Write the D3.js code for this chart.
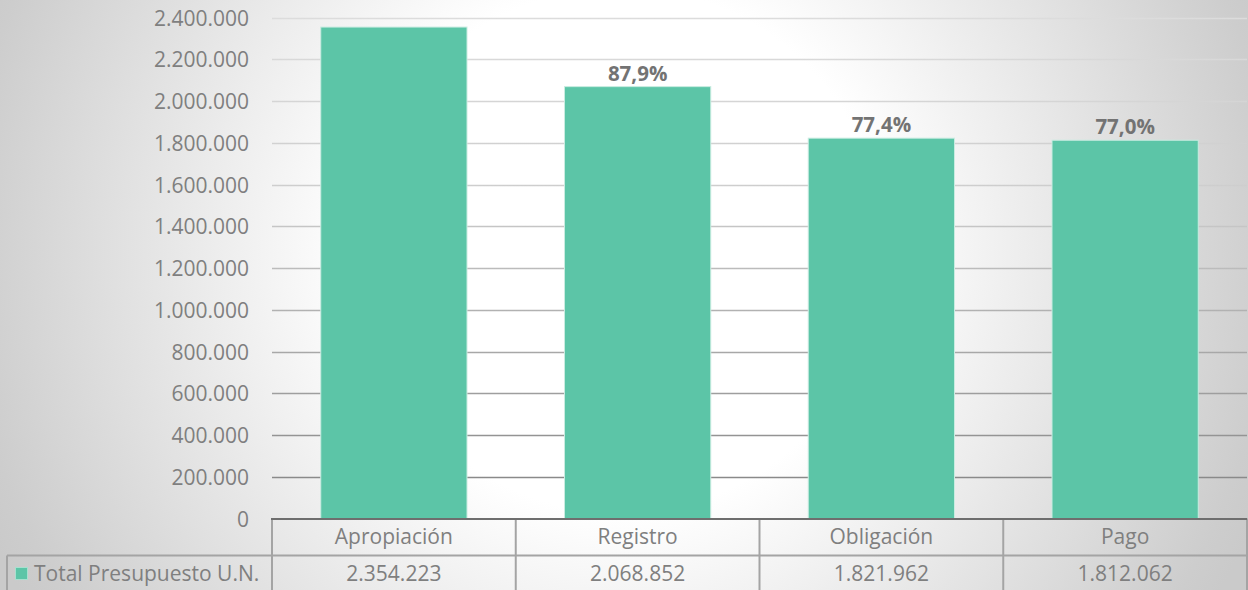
<!DOCTYPE html>
<html>
<head>
<meta charset="utf-8">
<script src="https://cdn.jsdelivr.net/npm/d3@7"></script>
<style>
  html, body { margin: 0; padding: 0; background: #fff; }
  svg { display: block; font-family: "Open Sans", "DejaVu Sans", sans-serif; }
</style>
</head>
<body>
<svg id="chart" width="1248" height="590"></svg>
<script>
  // data
  const categories = ["Apropiación", "Registro", "Obligación", "Pago"];
  const values = [2354223, 2068852, 1821962, 1812062];
  const pctLabels = ["", "87,9%", "77,4%", "77,0%"];
  const seriesName = "Total Presupuesto U.N.";
  const yTicks = [0, 200000, 400000, 600000, 800000, 1000000, 1200000,
                  1400000, 1600000, 1800000, 2000000, 2200000, 2400000];

  const W = 1248, H = 590;
  const plot = { left: 272, right: 1247, top: 17.5, bottom: 518.5 };
  const rowH = 37;
  const barColor = "#5cc5a7";
  const textColor = "#7f7f7f";

  const fmt = d3.formatLocale({ decimal: ",", thousands: ".", grouping: [3], currency: ["", ""] });
  const num = fmt.format(",d");

  const svg = d3.select("#chart");
  const defs = svg.append("defs");

  const bg = defs.append("radialGradient")
    .attr("id", "bg").attr("gradientUnits", "userSpaceOnUse")
    .attr("cx", 620).attr("cy", 250).attr("r", 690);
  bg.append("stop").attr("offset", 0).attr("stop-color", "#ffffff");
  bg.append("stop").attr("offset", 0.38).attr("stop-color", "#ffffff");
  bg.append("stop").attr("offset", 0.95).attr("stop-color", "#cdcdcd");
  bg.append("stop").attr("offset", 1).attr("stop-color", "#cacaca");

  const gl = defs.append("linearGradient")
    .attr("id", "grid").attr("gradientUnits", "userSpaceOnUse")
    .attr("x1", 0).attr("y1", plot.top).attr("x2", 0).attr("y2", plot.bottom);
  gl.append("stop").attr("offset", 0).attr("stop-color", "#dcdcdc");
  gl.append("stop").attr("offset", 0.35).attr("stop-color", "#cdcdcd");
  gl.append("stop").attr("offset", 0.92).attr("stop-color", "#8a8a8a");
  gl.append("stop").attr("offset", 1).attr("stop-color", "#858585");

  svg.append("rect").attr("width", W).attr("height", H).attr("fill", "url(#bg)");

  const x = d3.scaleBand()
    .domain(categories)
    .range([plot.left, plot.right])
    .paddingInner(0.4)
    .paddingOuter(0.2);

  const y = d3.scaleLinear()
    .domain([0, 2400000])
    .range([plot.bottom, plot.top]);

  // gridlines
  svg.append("g")
    .selectAll("line")
    .data(yTicks.filter((d) => d > 0))
    .join("line")
    .attr("x1", plot.left).attr("x2", plot.right)
    .attr("y1", (d) => Math.round(y(d)) + 0.5)
    .attr("y2", (d) => Math.round(y(d)) + 0.5)
    .attr("stroke", "url(#grid)")
    .attr("stroke-width", 1.5);

  // y axis labels
  const yAxis = d3.axisLeft(y).tickValues(yTicks).tickSize(0).tickPadding(0)
    .tickFormat((d) => num(d));
  const ya = svg.append("g").attr("transform", `translate(${plot.left - 23},0)`).call(yAxis);
  ya.select(".domain").remove();
  ya.selectAll("text")
    .attr("fill", textColor)
    .style("font-size", "21px")
    .style("font-family", "'Open Sans', sans-serif")
    .attr("dy", "0.36em");

  // bars
  svg.append("g")
    .selectAll("rect")
    .data(values)
    .join("rect")
    .attr("x", (d, i) => x(categories[i]))
    .attr("y", (d) => y(d))
    .attr("width", x.bandwidth())
    .attr("height", (d) => plot.bottom - y(d))
    .attr("fill", barColor)
    .attr("stroke", "#c9ece1")
    .attr("stroke-width", 1);

  // percentage labels
  svg.append("g")
    .selectAll("text")
    .data(pctLabels)
    .join("text")
    .attr("x", (d, i) => x(categories[i]) + x.bandwidth() / 2)
    .attr("y", (d, i) => y(values[i]) - 6)
    .attr("text-anchor", "middle")
    .attr("fill", "#737373")
    .style("font-size", "20.5px")
    .style("font-weight", "bold")
    .text((d) => d);

  // data table
  const table = svg.append("g");
  const lineCol = "#a4a4a4";
  const r1 = plot.bottom, r2 = plot.bottom + rowH, r3 = H + 2;

  table.append("line")
    .attr("x1", plot.left).attr("x2", plot.right)
    .attr("y1", r2).attr("y2", r2)
    .attr("stroke", lineCol).attr("stroke-width", 2);
  table.append("line")
    .attr("x1", 7).attr("x2", plot.left)
    .attr("y1", r2).attr("y2", r2)
    .attr("stroke", lineCol).attr("stroke-width", 2);
  table.append("line")
    .attr("x1", 7).attr("x2", 7)
    .attr("y1", r2).attr("y2", r3)
    .attr("stroke", lineCol).attr("stroke-width", 2);

  const edges = categories.map((c) => x(c) - x.step() * x.paddingInner() / 2);
  edges.push(plot.right);
  table.selectAll(".vline")
    .data(edges)
    .join("line")
    .attr("class", "vline")
    .attr("x1", (d) => d).attr("x2", (d) => d)
    .attr("y1", r1).attr("y2", r3)
    .attr("stroke", lineCol).attr("stroke-width", 2);

  // axis line on top of the table
  table.append("line")
    .attr("x1", plot.left - 1).attr("x2", plot.right)
    .attr("y1", r1 + 0.5).attr("y2", r1 + 0.5)
    .attr("stroke", "#6e6e6e").attr("stroke-width", 2);

  table.selectAll(".cat")
    .data(categories)
    .join("text")
    .attr("class", "cat")
    .attr("x", (d) => x(d) + x.bandwidth() / 2)
    .attr("y", r1 + 25)
    .attr("text-anchor", "middle")
    .attr("fill", textColor)
    .style("font-size", "21px")
    .text((d) => d);

  table.selectAll(".val")
    .data(values)
    .join("text")
    .attr("class", "val")
    .attr("x", (d, i) => x(categories[i]) + x.bandwidth() / 2)
    .attr("y", r2 + 25)
    .attr("text-anchor", "middle")
    .attr("fill", textColor)
    .style("font-size", "21px")
    .text((d) => num(d));

  // legend key in the table
  table.append("rect")
    .attr("x", 15.5).attr("y", 567.5).attr("width", 12).attr("height", 12)
    .attr("fill", barColor).attr("stroke", "#a8e0cf").attr("stroke-width", 1);
  table.append("text")
    .attr("x", 34).attr("y", r2 + 25)
    .attr("fill", textColor)
    .style("font-size", "21px")
    .text(seriesName);
</script>
</body>
</html>
